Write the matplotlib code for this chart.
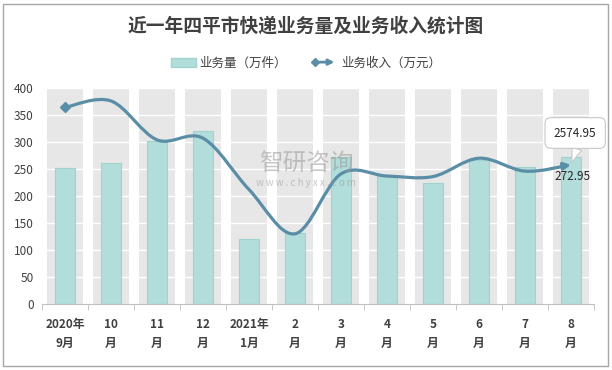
import matplotlib
matplotlib.use("Agg")
import matplotlib.pyplot as plt
import numpy as np
from matplotlib.path import Path
from matplotlib.patches import FancyArrowPatch, Patch, Rectangle
from matplotlib.lines import Line2D
from matplotlib.legend_handler import HandlerBase

plt.rcParams["font.family"] = ["Noto Sans CJK SC", "DejaVu Sans"]

months = ["2020年\n9月", "10\n月", "11\n月", "12\n月", "2021年\n1月", "2\n月",
          "3\n月", "4\n月", "5\n月", "6\n月", "7\n月", "8\n月"]
volume = [252, 262, 301, 321, 120, 132, 273, 237, 224, 266, 254, 272.95]   # 万件
revenue = [3640, 3760, 3040, 3070, 2120, 1300, 2410, 2370, 2360, 2700, 2460, 2574.95]  # 万元

BAR_C = "#B1DDDA"
BAR_EDGE = "#9FD3CF"
LINE_C = "#5A8DA6"
BAND_C = "#E7E7E7"
TXT_C = "#404040"


def smooth_path(xs, ys):
    """Excel-like smoothed line: Catmull-Rom converted to cubic Bezier."""
    pts = np.column_stack([xs, ys]).astype(float)
    n = len(pts)
    verts = [pts[0]]
    codes = [Path.MOVETO]
    for i in range(n - 1):
        p0 = pts[i - 1] if i > 0 else pts[i]
        p1 = pts[i]
        p2 = pts[i + 1]
        p3 = pts[i + 2] if i + 2 < n else pts[i + 1]
        c1 = p1 + (p2 - p0) / 6.0
        c2 = p2 - (p3 - p1) / 6.0
        verts += [c1, c2, p2]
        codes += [Path.CURVE4] * 3
    return Path(verts, codes)


class ArrowLineHandler(HandlerBase):
    def create_artists(self, legend, orig_handle, xdescent, ydescent,
                       width, height, fontsize, trans):
        y = height / 2 - ydescent
        arr = FancyArrowPatch((-xdescent + 2, y), (width - xdescent, y),
                              arrowstyle="-|>", mutation_scale=8,
                              color=LINE_C, lw=2, transform=trans)
        dia = Line2D([-xdescent + 2], [y], marker="D", ms=4.5,
                     color=LINE_C, transform=trans)
        return [arr, dia]


fig = plt.figure(figsize=(6.12, 3.70), dpi=100)
fig.patches.append(Rectangle((3 / 612, 4 / 370), 605 / 612, 362 / 370,
                             transform=fig.transFigure, fill=False,
                             ec="#A6A6A6", lw=1))

ax = fig.add_axes([42 / 612, 66 / 370, 552 / 612, 216 / 370])
x = np.arange(len(months))

# grey column bands behind each category
ax.bar(x, 400, width=0.8, color=BAND_C, zorder=0)
for yv in range(50, 401, 50):
    ax.axhline(yv, color="white", lw=1, zorder=1)
ax.bar(x, volume, width=0.42, color=BAR_C, edgecolor=BAR_EDGE, lw=0.8, zorder=2)

ax.set_xlim(-0.5, len(months) - 0.5)
ax.set_ylim(0, 400)
ax.set_yticks(range(0, 401, 50))
ax.tick_params(axis="y", length=0, labelsize=8.5, labelcolor=TXT_C, pad=6)
ax.set_xticks(x)
ax.set_xticklabels(months, fontsize=8.5, fontweight="bold", color=TXT_C,
                   linespacing=1.6)
ax.set_xticks(np.arange(-0.5, len(months)), minor=True)
ax.tick_params(axis="x", which="major", length=0, pad=10)
ax.tick_params(axis="x", which="minor", length=4, color="#BFBFBF")
for s in ["top", "right", "left"]:
    ax.spines[s].set_visible(False)
ax.spines["bottom"].set_color("#BFBFBF")

# revenue on hidden secondary axis
ax2 = ax.twinx()
ax2.set_ylim(0, 4000)
ax2.axis("off")
path = smooth_path(x, revenue)
ax2.add_patch(FancyArrowPatch(path=path, arrowstyle="-|>", mutation_scale=10,
                              color=LINE_C, lw=2.3, zorder=4))
ax2.plot(x[0], revenue[0], marker="D", ms=5, color=LINE_C, zorder=5)

ax.annotate(f"{volume[-1]:.2f}", (x[-1], volume[-1]), xytext=(1, -10),
            textcoords="offset points", ha="center", va="top",
            fontsize=8.5, color="#262626", zorder=6)
ax2.annotate(f"{revenue[-1]:.2f}", (x[-1], revenue[-1]), xytext=(3, 23),
             textcoords="offset points", ha="center", va="center",
             fontsize=8.5, color="#262626", zorder=6,
             bbox=dict(boxstyle="round,pad=0.75,rounding_size=0.5",
                       fc="white", ec="#C8C8C8", lw=0.8),
             arrowprops=dict(arrowstyle="wedge,tail_width=0.9,shrink_factor=0.4",
                             fc="white", ec="#C8C8C8", lw=0.8,
                             relpos=(0.62, 0.1), shrinkA=0, shrinkB=1))

# watermark
fig.text(0.5, 0.555, "智研咨询", fontsize=17, color="#9A9A9A", alpha=0.55,
         ha="center", va="center", zorder=10)
fig.text(0.5, 0.505, "w w w . c h y x x . c o m", fontsize=7, color="#9A9A9A",
         alpha=0.55, ha="center", va="center", zorder=10)

fig.suptitle("近一年四平市快递业务量及业务收入统计图", y=1 - 26 / 370, va="center",
             fontsize=13.5, fontweight="bold", color=TXT_C)

handles = [Patch(fc=BAR_C, ec=BAR_EDGE), Line2D([], [])]
fig.legend(handles, ["业务量（万件）", "业务收入（万元）"],
           handler_map={Line2D: ArrowLineHandler()},
           loc="center", bbox_to_anchor=(0.5, 1 - 63 / 370), ncol=2,
           frameon=False, fontsize=9, handlelength=2.0, handletextpad=0.3,
           columnspacing=2.0, labelcolor=TXT_C)

fig.savefig("out.png", dpi=100)
